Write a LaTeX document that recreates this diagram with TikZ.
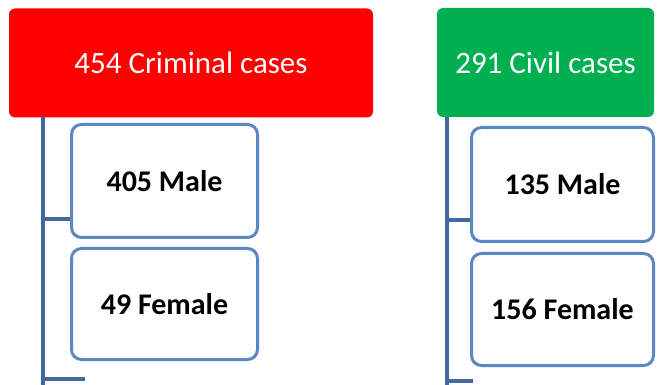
\documentclass[tikz,border=0pt]{standalone}
\usepackage{fontspec}
\setmainfont{Carlito}
\definecolor{critred}{HTML}{FF0000}
\definecolor{civgreen}{HTML}{00B050}
\definecolor{boxblue}{HTML}{5B88C4}
\definecolor{trunkblue}{HTML}{41699C}
\begin{document}
\begin{tikzpicture}[x=1pt,y=-1pt,
  topbox/.style={rounded corners=6pt, text=white, inner sep=0pt,
    font=\fontsize{31}{36}\selectfont},
  subbox/.style={draw=boxblue, line width=3pt, rounded corners=10pt, fill=white,
    inner sep=0pt, font=\bfseries\fontsize{30}{35}\selectfont},
  trunk/.style={draw=trunkblue, line width=3.5pt}]
\useasboundingbox (0,0) rectangle (657,385);
% left group
\node[topbox, fill=critred, minimum width=364pt, minimum height=109pt] (crim) at (191,63) {454 Criminal cases};
\node[subbox, minimum width=186pt, minimum height=113pt] (cm) at (164.5,181) {405 Male};
\node[subbox, minimum width=186pt, minimum height=111pt] (cf) at (164.5,304) {49 Female};
\coordinate (lt) at (43,117);
\coordinate (lb) at (43,386);
\coordinate (lbr) at (43,219);
\coordinate (lbs) at (43,379);
\coordinate (lbe) at (85,379);
\draw[trunk] (lt) -- (lb);
\draw[trunk] (lbr) -- (cm.west |- lbr);
\draw[trunk] (lbs) -- (lbe);
% right group
\node[topbox, fill=civgreen, minimum width=217pt, minimum height=109pt] (civ) at (545.5,62.5) {291 Civil cases};
\node[subbox, minimum width=182pt, minimum height=114pt] (vm) at (562.5,184.5) {135 Male};
\node[subbox, minimum width=182pt, minimum height=112pt] (vf) at (562.5,309.5) {156 Female};
\coordinate (rt) at (447,117);
\coordinate (rb) at (447,386);
\coordinate (rbr) at (447,220);
\coordinate (rbs) at (447,381);
\coordinate (rbe) at (473,381);
\draw[trunk] (rt) -- (rb);
\draw[trunk] (rbr) -- (vm.west |- rbr);
\draw[trunk] (rbs) -- (rbe);
\end{tikzpicture}
\end{document}
